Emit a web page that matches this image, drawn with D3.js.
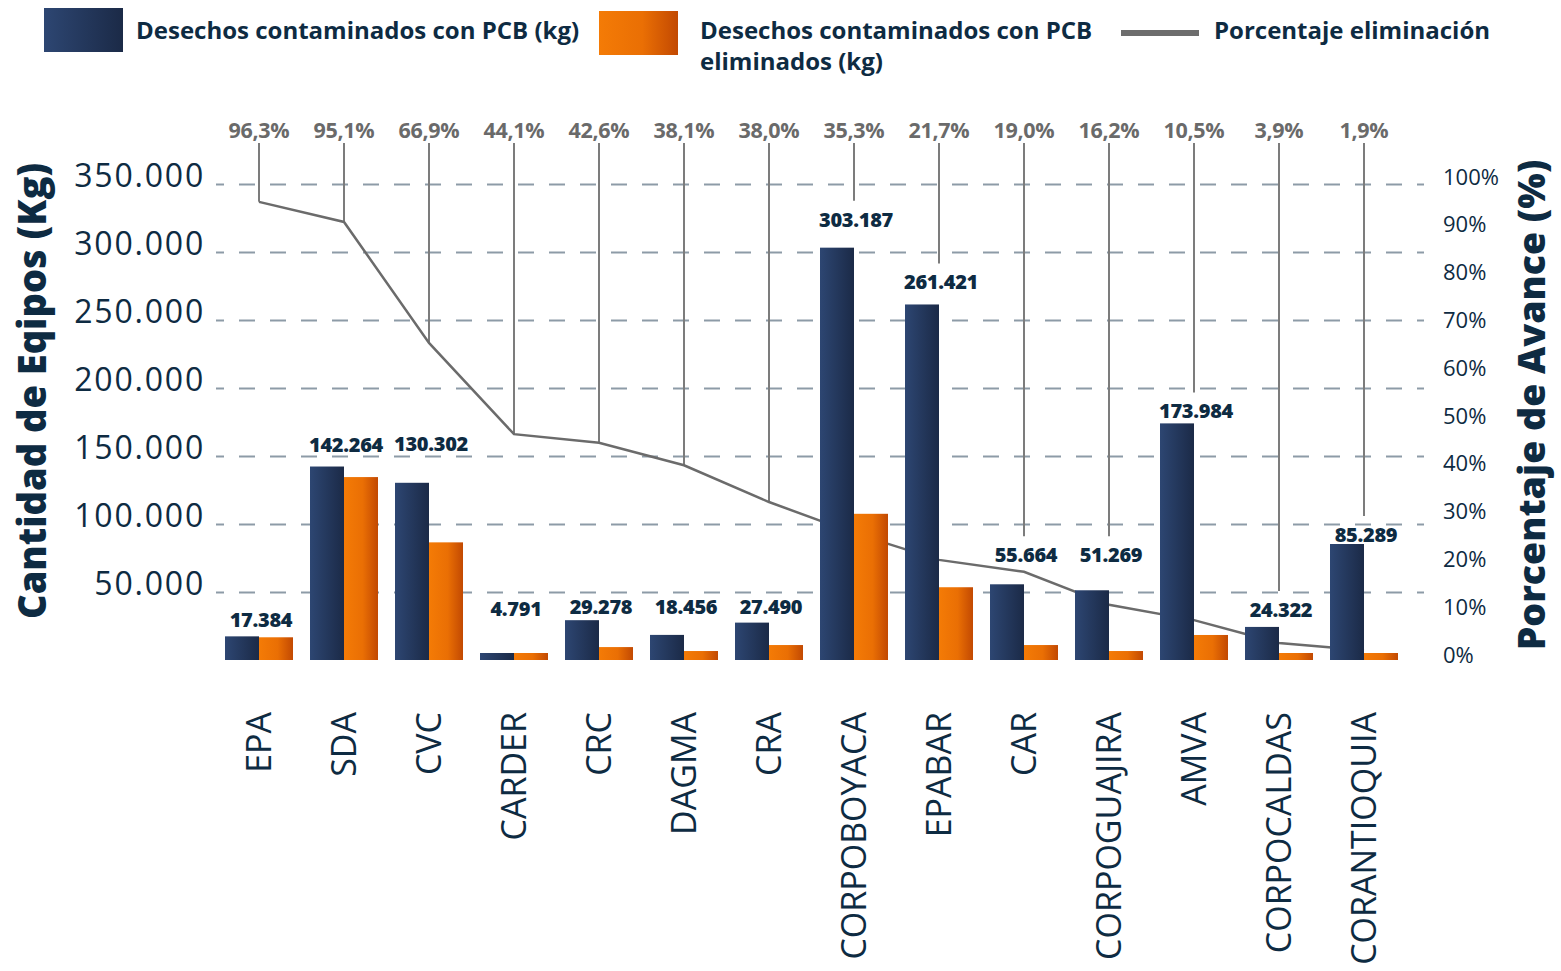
<!DOCTYPE html>
<html>
<head>
<meta charset="utf-8">
<script src="https://cdn.jsdelivr.net/npm/d3@7"></script>
<style>
  body { margin: 0; background: #fff; }
  svg text { font-family: "Open Sans", sans-serif; }
</style>
</head>
<body>
<svg id="chart" width="1561" height="971"></svg>
<script>
// data
var categories = ["EPA", "SDA", "CVC", "CARDER", "CRC", "DAGMA", "CRA", "CORPOBOYACA",
  "EPABAR", "CAR", "CORPOGUAJIRA", "AMVA", "CORPOCALDAS", "CORANTIOQUIA"];
var contaminados = [17384, 142264, 130302, 4791, 29278, 18456, 27490, 303187,
  261421, 55664, 51269, 173984, 24322, 85289];
var eliminados = [16700, 134500, 86500, 4500, 9500, 6600, 11000, 107500,
  53500, 11000, 6600, 18400, 950, 1600];
var porcentaje = [96.3, 95.1, 66.9, 44.1, 42.6, 38.1, 38.0, 35.3, 21.7, 19.0, 16.2, 10.5, 3.9, 1.9];
// where the grey line actually sits on the right axis
var linea = [94.8, 90.6, 65.3, 46.2, 44.4, 39.7, 32.0, 25.5, 19.9, 17.4, 10.5, 7.3, 2.5, 1.0];
var kgTicks = [50000, 100000, 150000, 200000, 250000, 300000, 350000];
var pctTicks = [0, 10, 20, 30, 40, 50, 60, 70, 80, 90, 100];

var navy = "#0e2b42";
var svg = d3.select("#chart");

var x = d3.scaleBand().domain(categories).range([216.5, 1406.5])
  .paddingInner(0.2).paddingOuter(0.1);
var y = d3.scaleLinear().domain([0, 350000]).range([660, 184]);
var yR = d3.scaleLinear().domain([0, 100]).range([655, 177]);
var bw = x.bandwidth() / 2;
var cx = function(c) { return x(c) + x.bandwidth() / 2; };
var fmtKg = function(v) { return d3.format(",")(v).replace(/,/g, "."); };
var fmtPct = function(v) { return v.toFixed(1).replace(".", ",") + "%"; };

// gradients
var defs = svg.append("defs");
function grad(id, stops) {
  var g = defs.append("linearGradient").attr("id", id).attr("x1", 0).attr("x2", 1).attr("y1", 0).attr("y2", 0);
  stops.forEach(function(s) { g.append("stop").attr("offset", s[0]).attr("stop-color", s[1]); });
}
grad("gBlue", [["0%", "#2d4672"], ["100%", "#1b2a47"]]);
grad("gOrange", [["0%", "#f47b06"], ["55%", "#ea6f04"], ["100%", "#c24902"]]);

// left axis with dashed gridlines
var gridW = 1424 - 216;
var yAxis = svg.append("g")
  .attr("transform", "translate(216,0)")
  .call(d3.axisLeft(y).tickValues(kgTicks).tickSize(-gridW).tickPadding(11).tickFormat(fmtKg));
yAxis.select(".domain").remove();
yAxis.selectAll(".tick line")
  .attr("stroke", "#8d9ba7").attr("stroke-width", 2)
  .attr("stroke-dasharray", "16,15").attr("stroke-dashoffset", 8);
yAxis.selectAll(".tick text")
  .attr("dy", "0.07em")
  .attr("fill", navy)
  .style("font-family", "'Open Sans', sans-serif")
  .style("font-size", "32px")
  .style("letter-spacing", "1.8px");

// right axis
var rAxis = svg.append("g")
  .attr("transform", "translate(1443,0)")
  .call(d3.axisRight(yR).tickValues(pctTicks).tickSize(0).tickPadding(0).tickFormat(function(d) { return d + "%"; }));
rAxis.select(".domain").remove();
rAxis.selectAll(".tick text")
  .attr("fill", navy)
  .style("font-family", "'Open Sans', sans-serif")
  .style("font-size", "22px");

// bar value label positions (small manual nudges, like in the original layout)
var nudge = { "EPA": 6, "CVC": -17, "CARDER": -22, "CRC": 9, "DAGMA": -6, "CRA": 6,
  "CORPOBOYACA": -6, "CAR": -7, "CORPOGUAJIRA": -13, "AMVA": 10, "CORPOCALDAS": 5, "CORANTIOQUIA": 13 };
var minH = 7;
function barTop(v) { return Math.min(y(v), y(0) - minH); }
function labelY(i) { return barTop(contaminados[i]) - 22 + (nudge[categories[i]] || 0); }

// connectors from top percentage to the line / label
svg.append("g").selectAll("line")
  .data(categories)
  .join("line")
  .attr("x1", function(d) { return cx(d); })
  .attr("x2", function(d) { return cx(d); })
  .attr("y1", 143)
  .attr("y2", function(d, i) { return Math.min(yR(linea[i]), labelY(i) - 19); })
  .attr("stroke", "#7c7c7c").attr("stroke-width", 2);

// percentage line
svg.append("path")
  .datum(categories)
  .attr("fill", "none")
  .attr("stroke", "#6b6b6b")
  .attr("stroke-width", 2.5)
  .attr("d", d3.line()
    .x(function(d) { return cx(d); })
    .y(function(d, i) { return yR(linea[i]); }));

// bars
var groups = svg.append("g").selectAll("g")
  .data(categories)
  .join("g");
groups.append("rect")
  .attr("x", function(d) { return x(d); })
  .attr("width", bw)
  .attr("y", function(d, i) { return barTop(contaminados[i]); })
  .attr("height", function(d, i) { return y(0) - barTop(contaminados[i]); })
  .attr("fill", "url(#gBlue)");
groups.append("rect")
  .attr("x", function(d) { return x(d) + bw; })
  .attr("width", bw)
  .attr("y", function(d, i) { return barTop(eliminados[i]); })
  .attr("height", function(d, i) { return y(0) - barTop(eliminados[i]); })
  .attr("fill", "url(#gOrange)");

// value labels
svg.append("g").selectAll("text")
  .data(categories)
  .join("text")
  .attr("x", function(d) { return cx(d) + 2; })
  .attr("y", function(d, i) { return labelY(i); })
  .attr("dy", "0.35em")
  .attr("text-anchor", "middle")
  .attr("fill", navy)
  .style("font-size", "20px").style("font-weight", 800).style("letter-spacing", "-0.3px")
  .text(function(d, i) { return fmtKg(contaminados[i]); });

// top percentages
svg.append("g").selectAll("text")
  .data(categories)
  .join("text")
  .attr("x", function(d) { return cx(d); })
  .attr("y", 130)
  .attr("dy", "0.35em")
  .attr("text-anchor", "middle")
  .attr("fill", "#6a6a6a")
  .style("font-size", "21.5px").style("font-weight", 700).style("letter-spacing", "-0.3px")
  .text(function(d, i) { return fmtPct(porcentaje[i]); });

// category labels
svg.append("g").selectAll("text")
  .data(categories)
  .join("text")
  .attr("transform", function(d) { return "translate(" + cx(d) + ",712) rotate(-90)"; })
  .attr("text-anchor", "end")
  .attr("dy", "0.36em")
  .attr("fill", navy)
  .style("font-size", "34px")
  .text(function(d) { return d; });

// axis titles
svg.append("text")
  .attr("transform", "translate(32,391) rotate(-90)")
  .attr("text-anchor", "middle").attr("dy", "0.36em")
  .attr("fill", navy)
  .style("font-size", "38px").style("font-weight", 800)
  .text("Cantidad de Eqipos (Kg)");
svg.append("text")
  .attr("transform", "translate(1531,405) rotate(-90)")
  .attr("text-anchor", "middle").attr("dy", "0.36em")
  .attr("fill", navy)
  .style("font-size", "37.5px").style("font-weight", 800)
  .text("Porcentaje de Avance (%)");

// legend
var leg = svg.append("g");
leg.append("rect").attr("x", 44).attr("y", 8).attr("width", 79).attr("height", 44).attr("fill", "url(#gBlue)");
leg.append("text").attr("x", 136).attr("y", 31).attr("dy", "0.35em").attr("fill", navy)
  .style("font-size", "24px").style("font-weight", 700).text("Desechos contaminados con PCB (kg)");
leg.append("rect").attr("x", 599).attr("y", 11).attr("width", 79).attr("height", 44).attr("fill", "url(#gOrange)");
leg.append("text").attr("x", 700).attr("y", 31).attr("dy", "0.35em").attr("fill", navy)
  .style("font-size", "24px").style("font-weight", 700).text("Desechos contaminados con PCB");
leg.append("text").attr("x", 700).attr("y", 62).attr("dy", "0.35em").attr("fill", navy)
  .style("font-size", "24px").style("font-weight", 700).text("eliminados (kg)");
leg.append("line").attr("x1", 1121).attr("x2", 1199).attr("y1", 33).attr("y2", 33)
  .attr("stroke", "#6d6d6d").attr("stroke-width", 6);
leg.append("text").attr("x", 1214).attr("y", 31).attr("dy", "0.35em").attr("fill", navy)
  .style("font-size", "24px").style("font-weight", 700).text("Porcentaje eliminación");
</script>
</body>
</html>
